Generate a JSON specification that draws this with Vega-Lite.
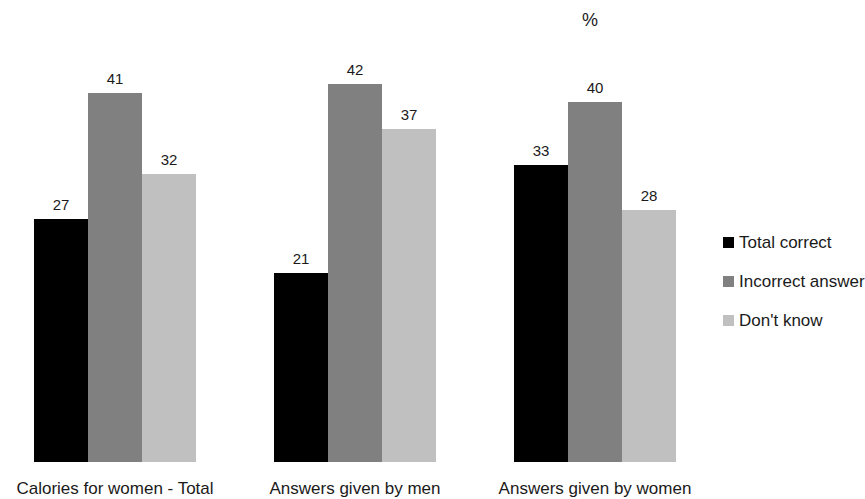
{
  "$schema": "https://vega.github.io/schema/vega-lite/v6.json",
  "autosize": {"type": "none"},
  "padding": {"left": 0, "top": 57, "right": 155, "bottom": 37},
  "width": 710,
  "height": 405,
  "background": "white",
  "title": {
    "text": "%",
    "anchor": "start",
    "frame": "group",
    "dx": 582,
    "offset": 13,
    "baseline": "alphabetic",
    "fontSize": 18,
    "fontWeight": "normal",
    "font": "Liberation Sans",
    "color": "#1a1a1a"
  },
  "config": {
    "view": {"stroke": null},
    "font": "Liberation Sans"
  },
  "data": {
    "values": [
      {"group": "Calories for women - Total", "series": "Total correct", "value": 27},
      {"group": "Calories for women - Total", "series": "Incorrect answer", "value": 41},
      {"group": "Calories for women - Total", "series": "Don't know", "value": 32},
      {"group": "Answers given by men", "series": "Total correct", "value": 21},
      {"group": "Answers given by men", "series": "Incorrect answer", "value": 42},
      {"group": "Answers given by men", "series": "Don't know", "value": 37},
      {"group": "Answers given by women", "series": "Total correct", "value": 33},
      {"group": "Answers given by women", "series": "Incorrect answer", "value": 40},
      {"group": "Answers given by women", "series": "Don't know", "value": 28}
    ]
  },
  "encoding": {
    "x": {
      "field": "group",
      "type": "nominal",
      "sort": ["Calories for women - Total", "Answers given by men", "Answers given by women"],
      "scale": {"paddingInner": 0.325, "paddingOuter": 0.1417},
      "axis": {
        "title": null,
        "domain": false,
        "ticks": false,
        "labelAngle": 0,
        "labelPadding": 18,
        "labelFontSize": 17,
        "labelLimit": 0,
        "labelColor": "#1a1a1a",
        "labelFont": "Liberation Sans",
        "labelBaseline": "top"
      }
    },
    "xOffset": {
      "field": "series",
      "type": "nominal",
      "sort": ["Total correct", "Incorrect answer", "Don't know"],
      "scale": {"paddingInner": 0, "paddingOuter": 0}
    },
    "y": {
      "field": "value",
      "type": "quantitative",
      "scale": {"domain": [0, 45], "nice": false},
      "axis": null
    }
  },
  "layer": [
    {
      "mark": {"type": "bar"},
      "encoding": {
        "color": {
          "field": "series",
          "type": "nominal",
          "sort": ["Total correct", "Incorrect answer", "Don't know"],
          "scale": {
            "domain": ["Total correct", "Incorrect answer", "Don't know"],
            "range": ["#000000", "#808080", "#c0c0c0"]
          },
          "legend": {
            "title": null,
            "orient": "none",
            "legendX": 720,
            "legendY": 177,
            "padding": 0,
            "symbolType": "square",
            "symbolSize": 121,
            "symbolStrokeWidth": 0,
            "labelFontSize": 17,
            "labelLimit": 0,
            "labelFont": "Liberation Sans",
            "labelColor": "#1a1a1a",
            "labelOffset": 2,
            "rowPadding": 21
          }
        }
      }
    },
    {
      "mark": {
        "type": "text",
        "baseline": "alphabetic",
        "dy": -9,
        "fontSize": 15,
        "font": "Liberation Sans",
        "color": "#1a1a1a"
      },
      "encoding": {
        "text": {"field": "value", "type": "quantitative"}
      }
    }
  ]
}
